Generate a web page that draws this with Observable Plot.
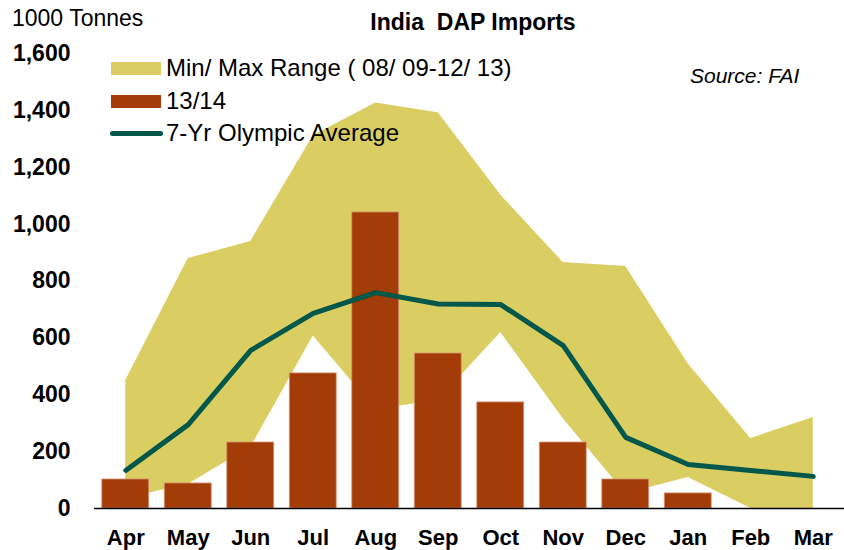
<!DOCTYPE html>
<html><head><meta charset="utf-8">
<script src="https://cdn.jsdelivr.net/npm/d3@7"></script>
<script src="https://cdn.jsdelivr.net/npm/@observablehq/plot@0.6"></script>
<style>
body{margin:0;background:#fff;font-family:"Liberation Sans",Arial,sans-serif;}
#wrap{position:relative;width:844px;height:550px;overflow:hidden;}
#wrap svg{position:absolute;left:0;top:0;}
.t{position:absolute;white-space:pre;line-height:1;color:#000;font-family:"Liberation Sans",Arial,sans-serif;}
.sw{position:absolute;}
</style></head><body>
<div id="wrap"></div>
<script>
// ---- data ----
const months = ["Apr","May","Jun","Jul","Aug","Sep","Oct","Nov","Dec","Jan","Feb","Mar"];
const rangeMin = [35, 85, 215, 607, 348, 380, 619, 316, 52, 109, 0, 0];
const rangeMax = [450, 879, 939, 1311, 1426, 1392, 1102, 865, 851, 508, 246, 320];
const imports1314 = [102, 88, 232, 475, 1041, 545, 373, 232, 102, 53, null, null];
const olympicAvg = [134, 295, 556, 686, 759, 719, 717, 573, 250, 155, 134, 113];
const yTicks = [0, 200, 400, 600, 800, 1000, 1200, 1400, 1600];

const titleText = "India\u00a0\u00a0DAP Imports";
const unitText = "1000 Tonnes";
const sourceText = "Source: FAI";
const legendRange = "Min/ Max Range ( 08/ 09-12/ 13)";
const legendBars = "13/14";
const legendLine = "7-Yr Olympic Average";

const cArea = "#DACD62", cBar = "#A33C06", cLine = "#00574A";

const data = months.map((m, i) => ({i, month: m, min: rangeMin[i], max: rangeMax[i], cur: imports1314[i], avg: olympicAvg[i]}));
const bars = data.filter(d => d.cur != null);

const plot = Plot.plot({
  width: 844, height: 550,
  marginLeft: 94, marginRight: 0, marginTop: 53, marginBottom: 42,
  style: {fontFamily: "'Liberation Sans', Arial, sans-serif", background: "transparent", color: "#000"},
  x: {domain: [-0.5, 11.5], axis: null, label: null},
  y: {domain: [0, 1600], axis: null, label: null},
  marks: [
    Plot.areaY(data, {x: "i", y1: "min", y2: "max", fill: cArea}),
    Plot.rectY(bars, {x1: d => d.i - 0.375, x2: d => d.i + 0.375, y1: 0, y2: "cur", fill: cBar, stroke: "#D49070", strokeWidth: 0.8}),
    Plot.ruleY([0], {stroke: "#000", strokeWidth: 1.6}),
    Plot.line(data, {x: "i", y: "avg", stroke: cLine, strokeWidth: 5, strokeLinecap: "round", strokeLinejoin: "round"}),
    Plot.axisX(d3.range(12), {label: null, tickSize: 0, tickPadding: 21, tickFormat: i => months[i], fontSize: 22, fontWeight: "bold"}),
    Plot.axisY(yTicks, {label: null, tickSize: 0, tickPadding: 24, tickFormat: d3.format(","), fontSize: 23, fontWeight: "bold"})
  ]
});
const wrap = document.getElementById("wrap");
wrap.appendChild(plot);

function addText(txt, left, centerY, size, extra = {}) {
  const d = document.createElement("div");
  d.className = "t";
  d.textContent = txt;
  d.style.left = left + "px";
  d.style.top = (centerY - size / 2) + "px";
  d.style.fontSize = size + "px";
  Object.assign(d.style, extra);
  wrap.appendChild(d);
  return d;
}
function addBox(left, top, w, h, bg, extra = {}) {
  const d = document.createElement("div");
  d.className = "sw";
  Object.assign(d.style, {left: left + "px", top: top + "px", width: w + "px", height: h + "px", background: bg}, extra);
  wrap.appendChild(d);
}

addText(unitText, 12, 18, 23);
addText(titleText, 473, 22, 23, {fontWeight: "bold", transform: "translateX(-50%)"});
addText(sourceText, 690, 75, 21, {fontStyle: "italic"});

addBox(111, 62, 50, 13, cArea);
addText(legendRange, 166, 68, 24);
addBox(111, 95, 50, 13, cBar);
addText(legendBars, 166, 101, 24);
addBox(110, 130.5, 53, 5, cLine, {borderRadius: "3px"});
addText(legendLine, 166, 133, 24);
</script>
</body></html>
